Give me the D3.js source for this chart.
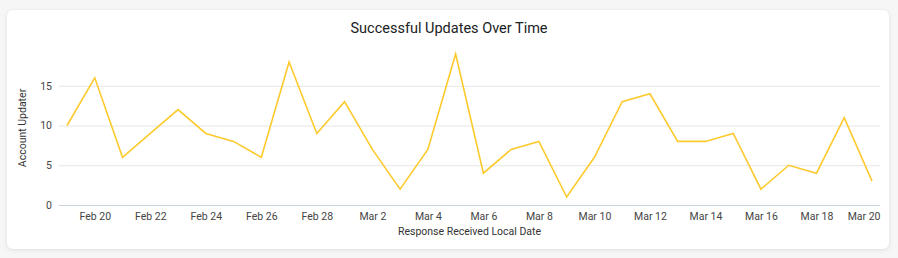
<!DOCTYPE html>
<html><head><meta charset="utf-8">
<script src="https://cdn.jsdelivr.net/npm/d3@7"></script>
<style>
html,body{margin:0;padding:0;background:#f6f6f6;}
body{width:898px;height:258px;position:relative;overflow:hidden;font-family:Roboto,"Noto Sans",sans-serif;}
.card{position:absolute;left:7px;top:10px;width:882px;height:239px;background:#fff;border-radius:6px;box-shadow:0 1px 4px rgba(0,0,0,0.10);}
svg{position:absolute;left:0;top:0;}
</style></head><body>
<div class="card"></div>
<svg id="c" width="898" height="258"></svg>
<script>
const title = "Successful Updates Over Time";
const xTitle = "Response Received Local Date";
const yTitle = "Account Updater";
const dates = ["2023-02-19","2023-02-20","2023-02-21","2023-02-22","2023-02-23","2023-02-24","2023-02-25","2023-02-26","2023-02-27","2023-02-28",
 "2023-03-01","2023-03-02","2023-03-03","2023-03-04","2023-03-05","2023-03-06","2023-03-07","2023-03-08","2023-03-09","2023-03-10",
 "2023-03-11","2023-03-12","2023-03-13","2023-03-14","2023-03-15","2023-03-16","2023-03-17","2023-03-18","2023-03-19","2023-03-20"];
const values = [10,16,6,9,12,9,8,6,18,9,13,7,2,7,19,4,7,8,1,6,13,14,8,8,9,2,5,4,11,3];
const yTicks = [0,5,10,15];

const parse = d3.timeParse("%Y-%m-%d");
const data = dates.map((d,i)=>({date:parse(d), value:values[i]}));
const svg = d3.select("#c");
const plotL = 59, plotR = 880, plotTop = 54, plotBottom = 205;

const x = d3.scaleTime().domain(d3.extent(data, d=>d.date)).range([67, 872]);
const y = d3.scaleLinear().domain([0, d3.max(values)]).range([plotBottom, plotTop]);

svg.append("text").attr("x",449).attr("y",33).attr("text-anchor","middle")
  .attr("font-size",14.5).attr("fill","#202124").text(title);

// gridlines
svg.append("g").selectAll("line").data(yTicks.filter(t=>t>0)).join("line")
  .attr("x1",plotL).attr("x2",plotR).attr("y1",d=>y(d)+0.5).attr("y2",d=>y(d)+0.5)
  .attr("stroke","#e6e6e6").attr("stroke-width",1);

// y axis labels
const yAxis = svg.append("g").attr("transform",`translate(${plotL},0)`)
  .call(d3.axisLeft(y).tickValues(yTicks).tickSize(0).tickPadding(7).tickFormat(d3.format("d")));
yAxis.select(".domain").remove();
yAxis.selectAll("text").attr("font-size",10.5).attr("fill","#444").attr("font-family","Roboto,sans-serif");

// x axis
const xAxis = svg.append("g").attr("transform",`translate(0,${plotBottom})`)
  .call(d3.axisBottom(x).tickValues(d3.timeDay.range(parse("2023-02-20"), parse("2023-03-21")).filter(d=>d.getDate()%2===0))
    .tickSize(0).tickPadding(8).tickFormat(d3.timeFormat("%b %-d")));
xAxis.select(".domain").remove();
xAxis.selectAll("text").attr("font-size",10.5).attr("fill","#444").attr("font-family","Roboto,sans-serif");
// keep labels inside plot area
xAxis.selectAll(".tick").each(function(d){
  const t = d3.select(this).select("text");
  const w = t.node().getComputedTextLength();
  const cx = x(d);
  if (cx + w/2 > plotR) t.attr("x", plotR - (cx + w/2));
});
svg.append("line").attr("x1",plotL).attr("x2",plotR).attr("y1",plotBottom+0.5).attr("y2",plotBottom+0.5)
  .attr("stroke","#c9d3e0").attr("stroke-width",1);

// axis titles
svg.append("text").attr("x",(plotL+plotR)/2).attr("y",235).attr("text-anchor","middle")
  .attr("font-size",10.5).attr("fill","#333").text(xTitle);
svg.append("text").attr("transform","translate(26,128) rotate(-90)").attr("text-anchor","middle")
  .attr("font-size",10.5).attr("fill","#333").text(yTitle);

// line
svg.append("path").datum(data)
  .attr("d", d3.line().x(d=>x(d.date)).y(d=>y(d.value)))
  .attr("fill","none").attr("stroke","#fdca2e").attr("stroke-width",1.6).attr("stroke-linejoin","miter");
</script>
</body></html>
